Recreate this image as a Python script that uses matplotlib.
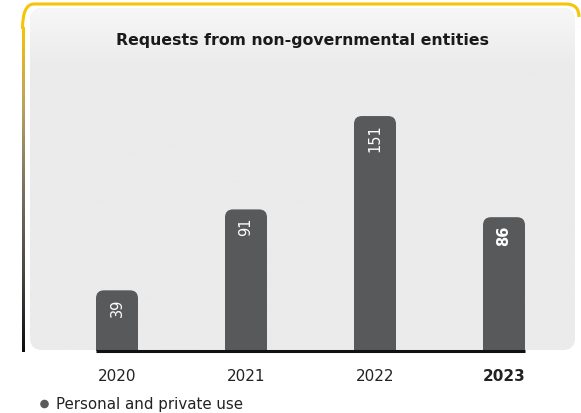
import numpy as np
import matplotlib
matplotlib.use("Agg")
import matplotlib.pyplot as plt
from matplotlib.patches import FancyBboxPatch, Circle
from matplotlib.path import Path
from matplotlib.patches import PathPatch

years = ["2020", "2021", "2022", "2023"]
values = [39, 91, 151, 86]
title = "Requests from non-governmental entities"
legend_label = "Personal and private use"

W, H = 581, 414
bar_color = "#58595b"
panel_color = "#ebebeb"
yellow = "#f6c409"

plt.rcParams['font.family'] = ['DejaVu Sans']

fig = plt.figure(figsize=(W / 100, H / 100), dpi=100)
fig.patch.set_facecolor("white")

# background layer in pixel coords
bg = fig.add_axes([0, 0, 1, 1])
bg.axis("off")

panel = FancyBboxPatch((30, 9), 545, 342, boxstyle="round,pad=0,rounding_size=13",
                       facecolor=panel_color, edgecolor="none")
bg.add_patch(panel)
grad = np.clip(np.linspace(0, 1, 256).reshape(-1, 1) * 6, 0, 1)
cmap = matplotlib.colors.LinearSegmentedColormap.from_list("pg", ["#f7f7f7", panel_color])
im = bg.imshow(grad, cmap=cmap, extent=[30, 575, 351, 9], aspect="auto", zorder=1)
im.set_clip_path(panel)

# yellow top border with rounded corners
verts = [(22.5, 30), (22.5, 5), (34, 5), (566, 5), (579, 5), (579, 18)]
codes = [Path.MOVETO, Path.CURVE3, Path.CURVE3, Path.LINETO, Path.CURVE3, Path.CURVE3]
bg.add_patch(PathPatch(Path(verts, codes), facecolor="none", edgecolor=yellow, lw=2.2, zorder=2))

# left border gradient yellow -> black
lcmap = matplotlib.colors.LinearSegmentedColormap.from_list(
    "lg", [yellow, "#b8a060", "#7a7060", "#4a4843", "#0d0d0d"])
lgrad = np.linspace(0, 1, 256).reshape(-1, 1)
bg.imshow(lgrad, cmap=lcmap, extent=[21.5, 23.6, 353, 28], aspect="auto", zorder=2,
          interpolation="bilinear")
bg.set_xlim(0, W)
bg.set_ylim(H, 0)

# bar axes
px_per_unit = 1.556
x_pos = np.arange(len(years))
ax = fig.add_axes([30 / W, (H - 352) / H, 545 / W, 342 / H])
ax.patch.set_alpha(0)
ax.set_xlim(-87 / 129, (575 - 117) / 129)
ax.set_ylim(0, 342 / px_per_unit)
ax.axis("off")

width = 42 / 129
r_x = 8 / 129
asp = 129 / px_per_unit
r_y = r_x * asp

ax.bar(x_pos, [v - r_y for v in values], width=width, color=bar_color, zorder=2)
for xi, v in zip(x_pos, values):
    ax.add_patch(FancyBboxPatch((xi - width / 2, 0), width, v,
                                boxstyle=f"round,pad=0,rounding_size={r_x}",
                                mutation_aspect=asp, facecolor=bar_color,
                                edgecolor="none", zorder=2))
    bold = xi == len(values) - 1
    ax.text(xi, v - 7 / px_per_unit, str(v), rotation=90, ha="center", va="top",
            color="white", fontsize=10.5, fontweight="bold" if bold else "normal",
            zorder=3)

ax.plot([x_pos[0] - width / 2, x_pos[-1] + width / 2], [0, 0], color="#111111",
        lw=2.2, solid_capstyle="butt", zorder=3, clip_on=False)

# year labels
for xi, y in zip(x_pos, years):
    bold = xi == len(years) - 1
    ax.text(xi, -25 / px_per_unit, y, ha="center", va="center", fontsize=11,
            fontweight="bold" if bold else "normal", color="#222222", clip_on=False)

# title
bg.text(302, 40, title, ha="center", va="center", fontsize=11.3, fontweight="bold",
        color="#1a1a1a", zorder=4)

# legend
bg.add_patch(Circle((44.5, 405), 4.3, facecolor=bar_color, edgecolor="none", zorder=4))
bg.text(56, 405, legend_label, ha="left", va="center", fontsize=10.8,
        color="#222222", zorder=4)

fig.savefig("out.png", dpi=100)
